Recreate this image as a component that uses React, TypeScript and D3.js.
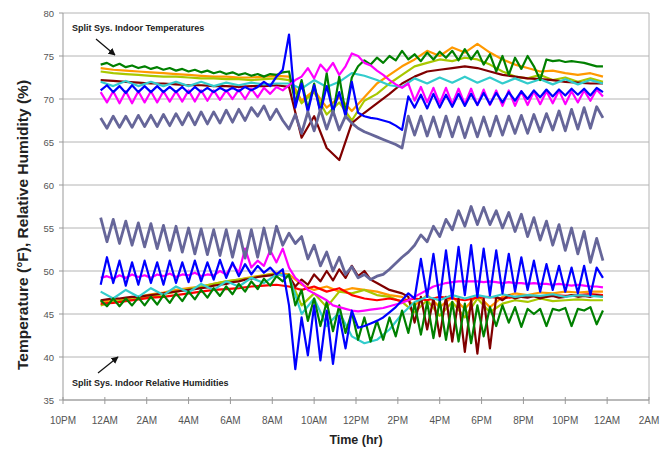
import React from 'react';
import * as d3 from 'd3';

// time of first logged sample (hours after midnight) and sampling steps
const START = -0.2;
const FINE = 0.3;
const COARSE = 0.6;

const xTicks = [-2, 0, 2, 4, 6, 8, 10, 12, 14, 16, 18, 20, 22, 24, 26];
const xTickLabels = ['10PM', '12AM', '2AM', '4AM', '6AM', '8AM', '10AM', '12PM', '2PM', '4PM', '6PM', '8PM', '10PM', '12AM', '2AM'];
const yTicks = [35, 40, 45, 50, 55, 60, 65, 70, 75, 80];

// ---- indoor temperatures (F) ----
const tempGray = [
  67.8, 66.6, 68.0, 66.7, 68.0, 66.7, 68.1, 66.8, 68.1, 66.8,
  68.2, 66.9, 68.3, 67.0, 68.4, 67.0, 68.5, 67.1, 68.5, 67.2,
  68.7, 67.3, 68.8, 67.5, 69.0, 68.0, 69.2, 67.6, 68.8, 67.5,
  66.5, 68.2, 66.0, 68.5, 66.3, 68.8, 66.5, 68.6, 66.4, 68.0,
  67.2, 66.6, 66.2, 65.9, 65.6, 65.3, 65.0, 64.7, 64.3, 68.0,
  65.8, 68.0, 65.7, 67.9, 65.6, 68.0, 65.6, 67.9, 65.5, 67.8,
  65.6, 67.9, 65.7, 68.0, 65.8, 68.0, 66.0, 68.1, 66.0, 68.2,
  66.2, 68.3, 66.4, 68.6, 66.3, 68.8, 66.5, 69.0, 66.6, 69.1,
  67.8,
];
const tempBlue = [
  71.0, 71.6, 70.8, 71.5, 70.7, 71.6, 70.8, 71.5, 70.8, 71.5,
  70.8, 71.4, 70.8, 71.4, 70.7, 71.4, 70.8, 71.3, 70.8, 71.3,
  70.9, 71.3, 70.9, 71.4, 71.0, 71.4, 72.0, 71.5, 72.6, 73.4,
  77.5, 69.0, 71.8, 68.5, 71.6, 68.4, 71.5, 68.6, 70.8, 68.0,
  72.0, 68.4, 68.0, 67.8, 67.7, 67.5, 67.3, 66.9, 66.4, 70.3,
  69.0, 70.5, 68.9, 70.6, 69.0, 70.5, 69.1, 70.6, 69.2, 70.6,
  69.3, 70.7, 69.4, 70.7, 69.6, 70.8, 69.8, 70.9, 70.0, 71.0,
  70.2, 71.1, 70.3, 71.1, 70.4, 71.2, 70.5, 71.2, 70.4, 71.3,
  70.8,
];
const tempMagenta = [
  70.8, 69.6, 70.9, 69.5, 70.9, 69.5, 70.9, 69.6, 70.9, 69.6,
  70.9, 69.7, 70.9, 69.7, 71.0, 69.7, 71.0, 69.8, 71.0, 69.9,
  71.0, 70.0, 71.1, 70.0, 71.2, 70.2, 71.3, 70.6, 71.4, 71.0,
  71.6, 72.2, 72.6, 73.6, 72.4, 74.0, 73.2, 74.2, 72.8, 73.8,
  75.3, 75.0, 74.2, 73.9, 73.3, 72.8, 72.2, 71.7, 71.3, 71.8,
  69.8, 71.4, 69.6, 71.3, 69.5, 71.3, 69.4, 71.2, 69.4, 71.2,
  69.3, 71.1, 69.3, 71.0, 69.2, 71.0, 69.2, 70.9, 69.3, 70.9,
  69.4, 70.9, 69.5, 71.0, 69.4, 70.9, 69.6, 71.0, 69.8, 71.1,
  70.3,
];
const tempGreen = [
  74.0, 74.2, 73.8, 74.1, 73.7, 73.9, 73.6, 73.8, 73.5, 73.7,
  73.4, 73.6, 73.3, 73.5, 73.2, 73.4, 73.1, 73.3, 73.0, 73.2,
  72.9, 73.1, 72.8, 73.0, 72.7, 72.9, 72.6, 72.9, 72.8, 73.1,
  73.2, 69.5, 72.2, 68.8, 71.8, 68.5, 73.0, 68.2, 72.6, 68.4,
  72.5, 73.8, 74.5, 74.0, 74.8, 74.2, 75.0, 74.5, 75.6, 74.6,
  75.2, 74.4, 75.4, 74.6, 75.5, 74.8, 75.6, 74.5, 75.8, 74.6,
  75.6, 74.0, 75.2, 73.2, 75.0, 72.8, 74.8, 73.5, 75.0, 73.8,
  72.2, 74.6, 74.4, 74.5, 74.3, 74.4, 74.3, 74.2, 74.0, 73.8,
  73.8,
];
const tempOrange = [
  73.6, 73.4, 73.3, 73.2, 73.1, 73.0, 72.9, 72.8, 72.7, 72.6,
  72.6, 72.5, 72.5, 72.6, 72.7, 72.6, 69.8, 71.0, 69.0, 70.2,
  68.6, 70.2, 71.8, 72.8, 73.8, 74.6, 75.6, 75.0, 76.0, 75.4,
  76.4, 75.4, 74.6, 74.0, 73.6, 73.2, 73.3, 73.0, 72.8, 73.0,
  72.6,
];
const tempYellow = [
  73.2, 73.0, 72.9, 72.8, 72.7, 72.6, 72.6, 72.5, 72.4, 72.4,
  72.3, 72.3, 72.2, 72.3, 72.4, 72.2, 69.5, 70.8, 68.2, 69.6,
  67.5, 69.8, 70.6, 71.8, 72.8, 73.8, 74.2, 74.6, 74.4, 74.8,
  74.6, 74.0, 73.2, 72.6, 72.4, 72.8, 72.2, 72.5, 72.0, 72.4,
  72.0,
];
const tempMaroon = [
  72.2, 72.1, 72.0, 71.9, 71.8, 71.8, 71.7, 71.6, 71.6, 71.5,
  71.5, 71.4, 71.5, 71.5, 71.6, 71.4, 65.5, 68.0, 64.3, 62.9,
  67.2, 68.4, 69.5, 70.6, 71.8, 72.6, 73.2, 73.4, 73.6, 73.8,
  73.6, 73.2, 72.8, 72.6, 72.4, 72.3, 72.2, 72.0, 71.9, 71.8,
  71.8,
];
const tempCyan = [
  72.0, 71.5, 72.1, 71.5, 72.0, 71.5, 72.0, 71.5, 72.0, 71.5,
  71.9, 71.6, 71.9, 71.7, 71.8, 71.8, 71.2, 72.2, 71.4, 72.0,
  73.0, 72.7, 72.2, 71.6, 71.4, 72.4, 71.8, 72.5, 71.9, 72.6,
  71.9, 72.5, 71.8, 72.4, 71.8, 72.3, 71.7, 72.3, 71.7, 72.2,
  71.8,
];

// ---- indoor relative humidities (%) ----
const rhGray = [
  56.2, 53.4, 56.0, 53.2, 55.8, 53.0, 55.6, 52.8, 55.5, 52.6,
  55.3, 52.4, 55.2, 52.2, 55.0, 52.0, 54.9, 51.9, 54.8, 51.8,
  54.8, 51.6, 54.7, 51.5, 54.8, 51.6, 55.0, 52.0, 55.2, 53.0,
  54.4, 53.2, 54.0, 51.4, 53.0, 50.6, 52.2, 50.0, 51.6, 49.6,
  50.5, 49.2, 49.6, 49.0, 49.4, 49.6, 50.2, 50.9, 51.6, 52.2,
  53.0, 54.2, 53.4, 55.2, 54.0, 56.0, 54.8, 57.0, 55.2, 57.5,
  55.4, 57.4, 55.4, 57.0, 55.0, 56.8, 54.6, 56.6, 54.0, 56.2,
  53.6, 55.8, 53.0, 55.4, 52.4, 55.0, 52.0, 54.6, 51.0, 53.8,
  51.2,
];
const rhBlue = [
  48.4, 51.6, 48.6, 51.2, 48.3, 51.0, 48.4, 51.2, 48.6, 51.0,
  48.4, 51.2, 48.6, 51.0, 48.7, 51.2, 48.8, 51.0, 49.0, 51.3,
  49.2, 51.0, 49.4, 50.8, 49.6, 50.6, 49.8, 50.4, 49.6, 50.2,
  46.0, 38.6, 44.6, 40.2, 46.0, 39.6, 45.4, 39.2, 44.8, 41.0,
  45.4, 43.4, 43.6, 43.9, 44.2, 44.6, 45.2, 45.8, 46.6, 47.4,
  46.8, 51.4, 47.0, 52.0, 46.6, 52.4, 46.8, 52.8, 47.2, 53.0,
  47.0, 52.6, 47.2, 52.4, 47.4, 52.0, 47.6, 51.6, 47.8, 51.2,
  47.6, 50.8, 47.8, 50.6, 47.6, 50.4, 47.4, 50.6, 47.2, 50.4,
  49.2,
];
const rhMagenta = [
  49.2, 49.4, 49.1, 49.5, 49.2, 49.6, 49.3, 49.5, 49.2, 49.6,
  49.4, 49.7, 49.3, 49.6, 49.5, 49.8, 49.4, 49.6, 49.5, 50.0,
  49.6, 50.8, 49.8, 52.6, 50.4, 51.2, 50.6, 52.4, 51.0, 52.6,
  50.4, 49.2, 48.6, 47.8, 47.4, 47.0, 46.6, 46.0, 45.8, 45.6,
  45.4, 45.3, 45.4, 45.5, 45.6, 45.7, 45.9, 46.1, 46.3, 46.6,
  47.0, 47.4, 47.8, 48.2, 48.4, 48.6, 48.7, 48.8, 48.8, 48.8,
  48.8, 48.7, 48.8, 48.7, 48.6, 48.7, 48.6, 48.6, 48.5, 48.6,
  48.5, 48.5, 48.4, 48.5, 48.4, 48.3, 48.4, 48.3, 48.2, 48.2,
  48.1,
];
const rhGreen = [
  46.6, 45.9, 46.8, 45.9, 46.8, 46.0, 46.9, 46.0, 47.0, 46.1,
  47.2, 46.3, 47.4, 46.5, 47.6, 46.7, 47.8, 46.9, 48.0, 47.1,
  48.2, 47.3, 48.5, 47.6, 48.8, 47.9, 49.1, 48.3, 49.4, 48.8,
  49.6, 46.0, 47.8, 44.2, 46.8, 43.6, 46.4, 43.0, 46.0, 42.8,
  45.2, 42.0, 44.6, 41.8, 44.2, 42.0, 44.6, 42.4, 45.4, 42.8,
  46.2, 42.6, 46.4, 42.2, 46.6, 42.0, 46.4, 41.8, 46.2, 41.6,
  46.0, 42.4, 45.8, 43.6, 46.0, 44.0, 45.8, 43.5, 45.6, 45.0,
  45.6, 43.6, 45.6, 45.4, 45.7, 43.6, 45.6, 45.4, 45.8, 43.8,
  45.4,
];
const rhMaroon = [
  46.6, 46.7, 46.8, 46.8, 46.9, 47.0, 47.0, 47.1, 47.2, 47.3,
  47.4, 47.5, 47.6, 47.7, 47.8, 47.9, 48.0, 48.1, 48.3, 48.4,
  48.5, 48.7, 48.8, 49.0, 49.1, 49.3, 49.4, 49.5, 49.6, 49.5,
  49.4, 48.2, 49.0, 48.4, 49.6, 48.8, 50.0, 48.9, 50.2, 49.2,
  50.6, 49.4, 50.0, 49.0, 48.6, 48.2, 47.8, 47.6, 47.4, 47.0,
  44.0, 47.0, 43.2, 46.8, 42.4, 47.0, 41.8, 46.8, 40.6, 46.6,
  40.4, 46.8, 41.0, 47.0, 46.6, 47.2, 46.8, 47.0, 46.9, 47.1,
  46.8, 47.0, 47.1, 46.9, 47.0, 47.2, 47.0, 47.1, 47.0, 47.2,
  47.0,
];
const rhOrange = [
  46.4, 46.6, 46.8, 47.0, 47.3, 47.5, 47.8, 48.0, 48.2, 48.5,
  48.8, 49.0, 49.3, 49.5, 49.8, 49.6, 48.4, 47.8, 48.2, 47.6,
  48.0, 47.8, 47.6, 47.2, 47.0, 46.0, 47.2, 45.8, 47.0, 45.6,
  47.2, 45.8, 47.0, 47.4, 47.2, 47.5, 47.4, 47.6, 47.5, 47.6,
  47.6,
];
const rhRed = [
  46.2, 46.3, 46.5, 46.7, 46.9, 47.0, 47.2, 47.4, 47.6, 47.8,
  47.9, 48.0, 48.2, 48.3, 48.4, 48.2, 47.8, 48.2, 47.6, 48.0,
  47.2, 46.8, 46.6, 46.8, 46.5, 46.8, 46.6, 47.0, 46.8, 46.6,
  46.9, 47.0, 46.8, 47.0, 47.1, 47.0, 47.2, 47.1, 47.2, 47.3,
  47.2,
];
const rhYellow = [
  46.0, 46.4, 46.6, 46.8, 47.0, 47.3, 47.6, 47.9, 48.2, 48.5,
  48.8, 49.0, 49.2, 49.5, 49.7, 49.4, 46.0, 47.4, 45.8, 47.6,
  47.4, 47.8, 47.2, 47.0, 46.4, 45.2, 46.6, 44.8, 46.4, 44.6,
  46.8, 45.2, 46.2, 46.6, 46.4, 46.8, 46.5, 46.6, 46.7, 46.6,
  46.6,
];
const rhCyan = [
  47.6, 46.8, 47.8, 47.0, 48.0, 47.2, 48.2, 47.5, 48.5, 47.8,
  48.8, 48.2, 49.2, 48.6, 49.6, 49.4, 45.0, 46.8, 43.6, 45.2,
  42.4, 41.6, 42.0, 43.2, 45.0, 46.4, 47.0, 46.6, 47.2, 46.8,
  47.2, 46.9, 47.3, 47.0, 47.2, 47.1, 47.3, 47.0, 47.2, 47.1,
  47.0,
];

type Series = { values: number[]; step: number; color: string; width: number };

// drawing order: last one on top
const series: Series[] = [
  { values: tempOrange, step: COARSE, color: '#ff9900', width: 2.2 },
  { values: tempYellow, step: COARSE, color: '#a8c800', width: 2.2 },
  { values: tempMaroon, step: COARSE, color: '#800000', width: 2.2 },
  { values: tempCyan, step: COARSE, color: '#33cccc', width: 2.2 },
  { values: tempGreen, step: FINE, color: '#008000', width: 2.2 },
  { values: tempMagenta, step: FINE, color: '#ff00ff', width: 2.2 },
  { values: tempBlue, step: FINE, color: '#0000ff', width: 2.2 },
  { values: tempGray, step: FINE, color: '#666699', width: 2.8 },
  { values: rhOrange, step: COARSE, color: '#ff9900', width: 2.2 },
  { values: rhYellow, step: COARSE, color: '#a8c800', width: 2.2 },
  { values: rhRed, step: COARSE, color: '#ff0000', width: 2.2 },
  { values: rhMaroon, step: FINE, color: '#800000', width: 2.2 },
  { values: rhCyan, step: COARSE, color: '#33cccc', width: 2.2 },
  { values: rhGreen, step: FINE, color: '#008000', width: 2.2 },
  { values: rhMagenta, step: FINE, color: '#ff00ff', width: 2.2 },
  { values: rhBlue, step: FINE, color: '#0000ff', width: 2.2 },
  { values: rhGray, step: FINE, color: '#666699', width: 2.8 },
];

const W = 662;
const H = 450;
const left = 63, right = 649, top = 13, bottom = 400;

export default function App() {
  const x = d3.scaleLinear().domain([-2, 26]).range([left, right]);
  const y = d3.scaleLinear().domain([35, 80]).range([bottom, top]);

  const lineFor = (s: Series) =>
    d3.line<number>()
      .x((_, i) => x(START + i * s.step))
      .y(v => y(v))(s.values) || '';

  const font = 'Arial, "Liberation Sans", sans-serif';

  return (
    <div style={{ position: 'fixed', left: 0, top: 0 }}>
      <svg width={W} height={H} style={{ display: 'block', background: '#fff' }}>
        {/* gridlines */}
        {yTicks.map(t => (
          <line key={'g' + t} x1={left} x2={right} y1={y(t)} y2={y(t)} stroke="#b4b4b4" strokeWidth={1} />
        ))}
        <line x1={right} x2={right} y1={top} y2={bottom} stroke="#b4b4b4" strokeWidth={1} />
        {/* axes */}
        <line x1={left} x2={left} y1={top} y2={bottom} stroke="#999" strokeWidth={1} />
        <line x1={left} x2={right} y1={bottom} y2={bottom} stroke="#999" strokeWidth={1} />
        {yTicks.map(t => (
          <g key={'y' + t}>
            <line x1={left - 4} x2={left} y1={y(t)} y2={y(t)} stroke="#999" />
            <text x={left - 9} y={y(t) + 3.5} textAnchor="end" fontSize={9.5} fontFamily={font} fill="#555">{t}</text>
          </g>
        ))}
        {xTicks.map((t, i) => (
          <g key={'x' + t + i}>
            <line x1={x(t)} x2={x(t)} y1={bottom - 3} y2={bottom + 4} stroke="#999" />
            <text x={x(t)} y={424} textAnchor="middle" fontSize={10} fontFamily={font} fill="#555">{xTickLabels[i]}</text>
          </g>
        ))}

        {/* data */}
        {series.map((s, i) => (
          <path key={i} d={lineFor(s)} fill="none" stroke={s.color} strokeWidth={s.width} strokeLinejoin="round" />
        ))}

        {/* annotations */}
        <defs>
          <marker id="ah" viewBox="0 0 10 10" refX="9" refY="5" markerWidth="6" markerHeight="6" orient="auto">
            <path d="M0,0 L10,5 L0,10 z" fill="#111" />
          </marker>
        </defs>
        <text x={72} y={31} fontSize={9} fontWeight="bold" fontFamily={font} fill="#222">Split Sys. Indoor Temperatures</text>
        <line x1={96} y1={39} x2={115} y2={55} stroke="#111" strokeWidth={1.2} markerEnd="url(#ah)" />
        <text x={72} y={386} fontSize={9} fontWeight="bold" fontFamily={font} fill="#222">Split Sys. Indoor Relative Humidities</text>
        <line x1={98} y1={373} x2={118} y2={357} stroke="#111" strokeWidth={1.2} markerEnd="url(#ah)" />

        {/* axis titles */}
        <text x={356} y={444} textAnchor="middle" fontSize={12.5} fontWeight="bold" fontFamily={font} fill="#222">Time (hr)</text>
        <text transform="translate(28,225) rotate(-90)" textAnchor="middle" fontSize={15.5} fontWeight="bold" fontFamily={font} fill="#222">Temperature (°F), Relative Humidity (%)</text>
      </svg>
    </div>
  );
}
